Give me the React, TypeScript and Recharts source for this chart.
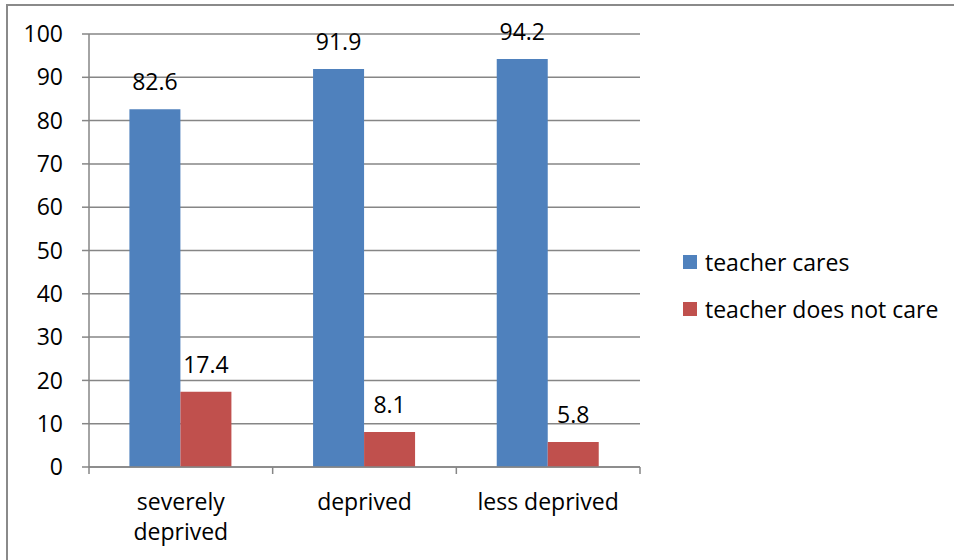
import { BarChart, Bar, XAxis, YAxis, CartesianGrid, LabelList } from 'recharts'

const categories = ['severely deprived', 'deprived', 'less deprived']
const teacherCares = [82.6, 91.9, 94.2]
const teacherDoesNotCare = [17.4, 8.1, 5.8]
const yTicks = [0, 10, 20, 30, 40, 50, 60, 70, 80, 90, 100]

const series = [
  { key: 'cares', name: 'teacher cares', color: '#4F81BD' },
  { key: 'notCare', name: 'teacher does not care', color: '#C0504D' },
]

const data = categories.map((name, i) => ({
  name,
  cares: teacherCares[i],
  notCare: teacherDoesNotCare[i],
}))

const FONT = '"Open Sans", sans-serif'
const GRID = '#868686'

function CategoryTick(props: any) {
  const { x, y, payload, index } = props
  const half = payload?.offset ?? 91.8
  const label: string = payload?.value ?? ''
  const lines = label.length > 14 ? [label.slice(0, label.indexOf(' ')), label.slice(label.indexOf(' ') + 1)] : [label]
  return (
    <g>
      <line x1={x - half} y1={y} x2={x - half} y2={y + 7} stroke={GRID} strokeWidth={1.5} />
      {index === categories.length - 1 && (
        <line x1={x + half} y1={y} x2={x + half} y2={y + 7} stroke={GRID} strokeWidth={1.5} />
      )}
      {lines.map((ln, i) => (
        <text key={i} x={x} y={y + 43 + i * 30} textAnchor="middle" fill="#000" fontSize={23} fontFamily={FONT}>
          {ln}
        </text>
      ))}
    </g>
  )
}

export default function App() {
  return (
    <div style={{ position: 'fixed', left: 0, top: 0, width: 954, height: 560, overflow: 'hidden', background: '#fff' }}>
      <div
        style={{
          position: 'absolute',
          left: 6,
          top: 4,
          width: 1000,
          height: 700,
          border: '2px solid #8a8a8a',
        }}
      />
      <div style={{ position: 'absolute', left: 0, top: 0 }}>
        <BarChart
          width={954}
          height={560}
          data={data}
          margin={{ top: 34, right: 314, left: 0, bottom: 0 }}
          barCategoryGap="22%"
          barGap={0}
        >
          <CartesianGrid horizontal vertical={false} stroke={GRID} strokeWidth={1.5} />
          <XAxis
            dataKey="name"
            height={93}
            axisLine={{ stroke: GRID, strokeWidth: 1.5 }}
            tickLine={false}
            tickSize={0}
            tickMargin={0}
            interval={0}
            tick={<CategoryTick />}
          />
          <YAxis
            width={89}
            domain={[0, 100]}
            ticks={yTicks}
            interval={0}
            axisLine={{ stroke: GRID, strokeWidth: 1.5 }}
            tickLine={{ stroke: GRID, strokeWidth: 1.5 }}
            tickSize={7}
            tickMargin={19}
            tick={{ fill: '#000', fontSize: 23, fontFamily: FONT }}
          />
          {series.map((s) => (
            <Bar key={s.key} dataKey={s.key} name={s.name} fill={s.color} isAnimationActive={false}>
              <LabelList dataKey={s.key} position="top" offset={19} fill="#000" fontSize={23} fontFamily={FONT} />
            </Bar>
          ))}
        </BarChart>
      </div>
      <div style={{ position: 'absolute', left: 683, top: 238, fontFamily: FONT, fontSize: 23, color: '#000' }}>
        {series.map((s) => (
          <div key={s.key} style={{ display: 'flex', alignItems: 'center', height: 47 }}>
            <span style={{ display: 'inline-block', width: 14, height: 14, background: s.color, marginRight: 8 }} />
            <span>{s.name}</span>
          </div>
        ))}
      </div>
    </div>
  )
}
